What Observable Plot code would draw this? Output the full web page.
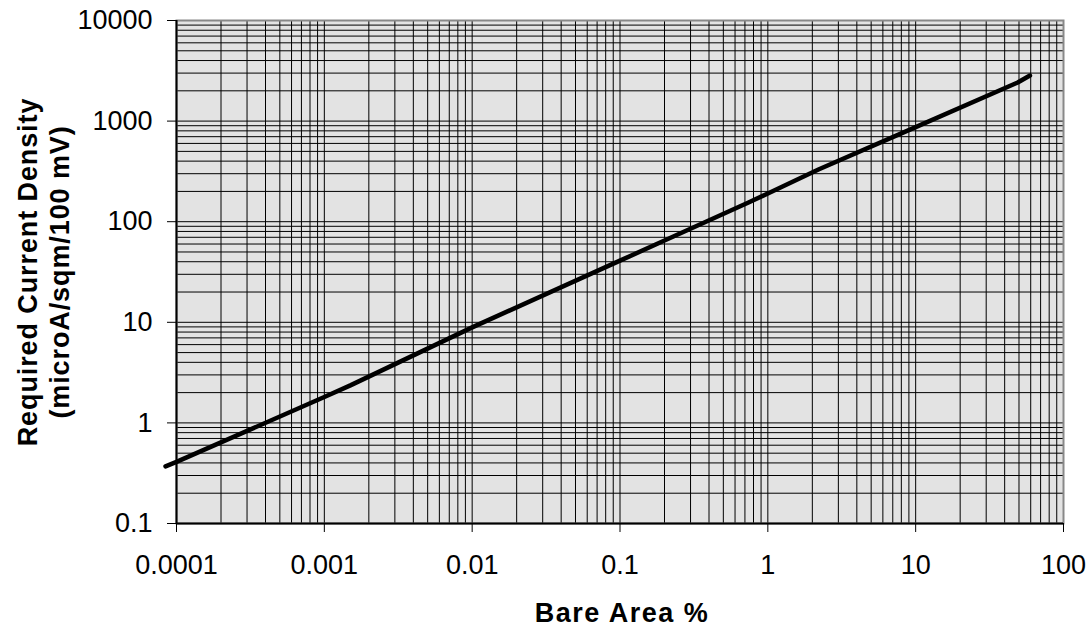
<!DOCTYPE html>
<html><head><meta charset="utf-8">
<script src="https://cdn.jsdelivr.net/npm/d3@7"></script>
<script src="https://cdn.jsdelivr.net/npm/@observablehq/plot@0.6"></script>
<style>body{margin:0;background:#fff;}
.xtitle text{letter-spacing:1.5px;}
.ytitle text{letter-spacing:0.9px;}
</style>
</head><body><div id="chart"></div>
<script>
// Data
const bareArea = [0.0000843, 0.0001, 0.001, 0.0015, 0.01, 0.1, 0.2, 0.74, 1, 2.2, 10, 49, 59.3];
const density  = [0.37, 0.41, 1.81, 2.36, 8.9, 41, 65, 155, 191, 330, 870, 2420, 2840];
const xTicks = [0.0001, 0.001, 0.01, 0.1, 1, 10, 100];
const yTicks = [0.1, 1, 10, 100, 1000, 10000];
const xTitle = "Bare Area %";
const yTitle = ["Required Current Density", "(microA/sqm/100 mV)"];

const data = bareArea.map((x, i) => ({x, y: density[i]}));
const xMinor = d3.scaleLog().domain([xTicks[0], xTicks[xTicks.length - 1]]).ticks();
const yMinor = d3.scaleLog().domain([yTicks[0], yTicks[yTicks.length - 1]]).ticks();

const chart = Plot.plot({
  width: 1091, height: 628,
  marginLeft: 176, marginTop: 20, marginRight: 28, marginBottom: 105,
  style: {fontFamily: "Arial, 'Liberation Sans', sans-serif", fontSize: "26px", color: "#000", background: "#fff"},
  x: {type: "log", domain: [xTicks[0], xTicks[xTicks.length - 1]]},
  y: {type: "log", domain: [yTicks[0], yTicks[yTicks.length - 1]]},
  marks: [
    Plot.frame({fill: "#e3e3e3", stroke: "none"}),
    Plot.gridX(xMinor, {stroke: "#000", strokeOpacity: 1, strokeWidth: 1}),
    Plot.gridY(yMinor, {stroke: "#000", strokeOpacity: 1, strokeWidth: 1}),
    Plot.frame({stroke: "#888", strokeWidth: 2}),
    Plot.ruleX([xTicks[0]], {stroke: "#000", strokeWidth: 2}),
    Plot.ruleY([yTicks[0]], {stroke: "#000", strokeWidth: 2}),
    Plot.axisX(xTicks, {tickSize: 9, tickPadding: 22, tickFormat: d => String(d), label: null, fontSize: 27}),
    Plot.axisY(yTicks, {tickSize: 9, tickPadding: 15, tickFormat: d => String(d), label: null, fontSize: 27}),
    Plot.line(data, {x: "x", y: "y", stroke: "#000", strokeWidth: 4.5}),
    Plot.text([xTitle], {frameAnchor: "bottom", dy: 90, dx: 2, text: d => d, textAnchor: "middle", lineAnchor: "middle", fontWeight: "bold", fontSize: 27, className: "xtitle"}),
    Plot.text([yTitle.join("\n")], {frameAnchor: "left", rotate: -90, dx: -134, text: d => d, textAnchor: "middle", lineAnchor: "middle", lineHeight: 1.185, fontWeight: "bold", fontSize: 27, className: "ytitle"})
  ]
});
document.getElementById("chart").append(chart);
</script>
</body></html>
